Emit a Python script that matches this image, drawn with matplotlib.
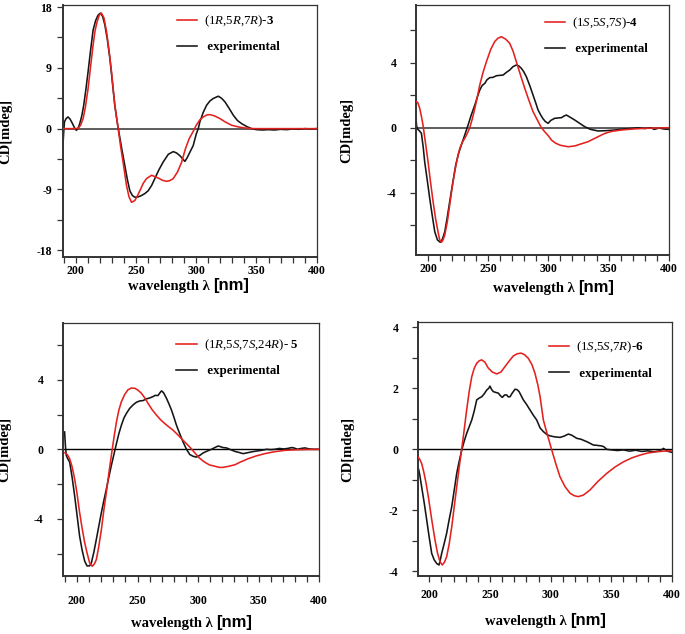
import matplotlib
matplotlib.use("Agg")
import matplotlib.pyplot as plt

plt.rcParams['font.family'] = ['Liberation Serif', 'DejaVu Serif']
plt.rcParams['mathtext.fontset'] = 'custom'
plt.rcParams['mathtext.rm'] = 'Liberation Serif'
plt.rcParams['mathtext.it'] = 'Liberation Serif:italic'
plt.rcParams['mathtext.bf'] = 'Liberation Serif:bold'

# ---------------- data ----------------
# (1R,5R,7R)-3
wl3_calc = [190, 195, 200, 202, 204, 206.1, 208, 210.2, 212.3, 214.4, 216, 217.7, 219.5, 221.3, 223.4,
            225.5, 227.6, 229.7, 231, 232.4, 235.2, 237.2, 239.3, 242.1, 244.2, 246.3, 249, 251, 253.2,
            256, 258.7, 262.9, 268.4, 272, 275.4, 278, 280.9, 284.5, 287.8, 291, 294.1, 297.5, 300, 303,
            306, 308.5, 311.3, 315, 319.6, 324, 329.4, 335, 340.4, 345, 350, 400]
cd3_calc = [0, 0, 0, 0.05, 0.5, 1.5, 3.2, 5.9, 9.2, 12.4, 14.5, 15.8, 16.8, 17.1, 16.4,
            14.4, 11.6, 8.4, 6.0, 3.5, 0, -2.6, -5.0, -8.4, -10.1, -10.9, -10.65, -10.0, -9.2,
            -8.1, -7.4, -6.9, -7.3, -7.65, -7.8, -7.7, -7.4, -6.4, -5.0, -3.0, -1.5, -0.4, 0.5, 1.3,
            1.75, 2.0, 2.08, 1.9, 1.5, 1.0, 0.5, 0.25, 0.1, 0.02, 0, 0]
wl3_exp = [189.5, 190, 190.6, 192, 193.6, 195.3, 197.3, 199, 200.5, 202, 203.3, 205, 206.6, 208.4,
           210.2, 212.3, 214.4, 216.5, 218.5, 220.5, 222.3, 224.1, 226.2, 228.3, 230.3, 232.4, 234.2,
           236, 238.4, 240.7, 242.8, 244.9, 247, 249, 251.8, 254.6, 257.4, 260.1, 263, 265.6, 269,
           272.5, 276.8, 280.9, 283.7, 286.4, 290.6, 292.5, 294.7, 297.5, 300, 301.7, 303, 305.8,
           308.6, 311.4, 314.1, 318.3, 321, 323.9, 327.3, 330.8, 334.2, 337.7, 342, 346, 350, 355,
           360, 365, 370, 375, 380, 385, 390, 395, 400]
cd3_exp = [-2.0, -0.5, 1.0, 1.5, 1.73, 1.4, 0.74, 0.1, -0.25, 0.1, 0.74, 1.9, 3.46, 5.8,
           8.4, 11.6, 14.6, 16.0, 16.8, 17.1, 16.6, 15.4, 13.2, 10.4, 7.0, 3.46, 1.2,
           -0.74, -3.2, -5.45, -7.5, -9.2, -9.9, -10.15, -10.1, -9.9, -9.6, -9.2, -8.4, -7.4, -6.1,
           -4.96, -3.8, -3.4, -3.6, -4.0, -4.85, -4.3, -3.5, -2.5, -0.8, 0, 1.0, 2.4,
           3.46, 4.1, 4.46, 4.8, 4.5, 3.95, 3.0, 1.98, 1.2, 0.74, 0.3, 0, -0.15, -0.2,
           -0.15, -0.2, -0.1, -0.15, -0.05, -0.1, 0, -0.05, 0]

# (1S,5S,7S)-4
wl4_calc = [190.3, 191.5, 193.1, 194.5, 195.8, 198, 200, 202, 204.2, 206.3, 208.3, 209.7, 211.1, 212.5,
            213.9, 216, 218, 220, 222.2, 224.3, 226.4, 228.5, 230.5, 232.6, 234.7, 236.8, 238.9, 241,
            243, 245.7, 248.5, 252, 255.4, 258, 260.9, 264.5, 267.9, 270.7, 273.4, 277, 280.4, 284,
            287.3, 291.4, 294.2, 297, 300, 302.6, 306, 310, 316.4, 322, 327, 333, 340, 346.9, 353,
            360.7, 370, 380, 390, 400]
cd4_calc = [1.6, 1.55, 1.19, 0.7, 0.17, -1.0, -2.09, -3.3, -4.55, -5.6, -6.4, -6.9, -7.05, -6.9,
            -6.6, -5.8, -4.76, -3.7, -2.7, -1.9, -1.27, -0.9, -0.65, -0.35, 0, 0.55, 1.19, 1.9,
            2.63, 3.4, 4.06, 4.8, 5.3, 5.5, 5.6, 5.45, 5.19, 4.7, 4.06, 3.2, 2.42, 1.65,
            0.98, 0.4, 0, -0.25, -0.5, -0.76, -0.95, -1.08, -1.17, -1.12, -1.0, -0.86, -0.6, -0.35, -0.22,
            -0.14, -0.08, -0.04, -0.02, 0]
wl4_exp = [190, 190.5, 191.5, 193, 194.5, 196, 197.2, 199.3, 201.4, 203.5, 205.6, 207.8, 210.2, 212,
           213.9, 216, 218, 220.5, 223, 225.3, 227.7, 230.5, 233.3, 236, 238.9, 241, 243, 245, 247.2,
           249, 251.3, 254, 256.9, 259.5, 262.4, 265, 267.9, 270.5, 273.4, 275.5, 277.6, 279.5,
           281.7, 284.5, 287.3, 289.4, 291.4, 293.5, 295.6, 297.5, 299.8, 302, 305.3, 308, 311, 313,
           315, 318, 322, 326, 330.3, 335, 341.3, 348, 355.2, 362, 368, 375, 380, 385, 388, 392, 396, 400]
cd4_exp = [0.6, 0.1, -0.1, -0.2, -0.35, -1.2, -2.09, -3.2, -4.35, -5.4, -6.4, -6.9, -7.05, -6.85,
           -6.4, -5.5, -4.55, -3.4, -2.3, -1.6, -1.06, -0.45, 0.17, 0.8, 1.4, 1.9, 2.32, 2.6, 2.73,
           2.95, 3.08, 3.1, 3.2, 3.22, 3.24, 3.4, 3.55, 3.75, 3.86, 3.8, 3.65, 3.45,
           3.14, 2.6, 2.0, 1.55, 1.1, 0.8, 0.55, 0.38, 0.27, 0.45, 0.58, 0.6, 0.62, 0.72,
           0.78, 0.65, 0.47, 0.27, 0.06, -0.1, -0.2, -0.18, -0.14, -0.08, -0.05, 0, -0.05, 0.0, -0.1, -0.02, -0.08, -0.1]

# (1R,5S,7S,24R)-5
wl5_calc = [190, 192, 194, 196, 198.1, 200.2, 202.2, 204.3, 206.4, 208.5, 210.5, 212.7, 214.3, 216,
            218, 220.2, 222.2, 224.3, 226.3, 228.4, 230.5, 232.6, 234.6, 236.7, 239.4, 242.1, 244.8,
            247.6, 250.4, 253.2, 256, 258.7, 262, 265.6, 269, 272.5, 276, 279.3, 283, 286.3, 290,
            293.1, 297.2, 301, 305.4, 309.5, 313.6, 317.5, 320.5, 325, 330.3, 335, 341.3, 348, 355,
            363, 371.6, 380, 390, 400]
cd5_calc = [-0.2, -0.3, -0.54, -1.0, -1.7, -2.6, -3.63, -4.55, -5.37, -6.0, -6.53, -6.72, -6.6, -6.34,
            -5.6, -4.6, -3.5, -2.47, -1.4, -0.35, 0.65, 1.58, 2.25, 2.74, 3.15, 3.42, 3.52,
            3.51, 3.4, 3.22, 2.95, 2.64, 2.28, 1.97, 1.7, 1.48, 1.28, 1.1, 0.85, 0.61, 0.35,
            0.13, -0.2, -0.5, -0.74, -0.9, -0.97, -1.04, -1.04, -0.98, -0.89, -0.73, -0.54, -0.38, -0.25,
            -0.14, -0.06, -0.03, -0.01, 0]
wl5_exp = [189.8, 190.5, 191.2, 192.5, 194, 196, 198.1, 200.2, 202.2, 204.3, 206.4, 208.3, 210.5,
           211.9, 214, 216, 218.1, 220.2, 222.2, 224.3, 226.3, 228.4, 230.5, 232.6, 234.6, 236.7,
           238.8, 240.8, 243.5, 246.3, 249, 251.8, 254.5, 257.4, 260, 262.8, 264.5, 266.9, 268.5,
           269.8, 271.5, 273.9, 276, 278, 280, 282.1, 284.8, 287.6, 290.4, 293.1, 295.8, 298.6,
           301.4, 304.1, 307.5, 311, 313.8, 316.5, 318.5, 320.5, 323.4, 326.8, 330.3, 333.7, 337.2,
           340.6, 344, 348, 352.3, 356.5, 360, 363.3, 367, 370.5, 374, 377.1, 379, 382, 385, 388.2,
           391, 395, 400]
cd5_exp = [1.0, 0.2, -0.35, -0.55, -0.74, -1.6, -2.67, -3.85, -4.99, -5.8, -6.43, -6.7, -6.7,
           -6.53, -5.9, -5.18, -4.4, -3.63, -2.95, -2.28, -1.6, -0.93, -0.3, 0.33, 0.9, 1.39,
           1.8, 2.06, 2.35, 2.55, 2.7, 2.78, 2.8, 2.9, 2.95, 3.03, 3.1, 3.09, 3.25,
           3.36, 3.25, 2.93, 2.6, 2.26, 1.85, 1.39, 0.9, 0.42, 0.0, -0.3, -0.4, -0.45,
           -0.35, -0.21, -0.1, 0.0, 0.1, 0.19, 0.15, 0.1, 0.08, -0.02, -0.12, -0.18, -0.25,
           -0.2, -0.15, -0.1, -0.06, 0.0, -0.02, 0.0, 0.05, 0.02, 0.05, 0.1, 0.08, 0.0, 0.05, 0.08,
           0.03, 0.0, 0.0]

# (1S,5S,7R)-6
wl6_calc = [190.4, 192, 193.7, 195.5, 197.3, 199.2, 202, 204.7, 206.8, 208.8, 210.7, 212.5, 214.3,
            216.4, 218.5, 220.5, 222.6, 224.6, 226.7, 228.8, 230.8, 232.9, 235, 237, 239.1, 241.2,
            243.2, 245.9, 248.6, 252, 255.6, 259, 262.4, 266, 269.3, 272.5, 275.6, 278.5, 281.6,
            284.5, 287.1, 289.5, 291.3, 294, 297.5, 300.9, 304.3, 307.7, 311.8, 316, 319.5, 322.8,
            327, 332.5, 339, 346.2, 353, 360, 367, 373.7, 380, 387.5, 393, 398.4, 400]
cd6_calc = [-0.24, -0.32, -0.46, -0.75, -1.1, -1.55, -2.3, -2.97, -3.4, -3.68, -3.79, -3.7, -3.52,
            -3.1, -2.54, -1.9, -1.23, -0.6, 0.0, 0.65, 1.29, 1.9, 2.38, 2.65, 2.82, 2.9,
            2.93, 2.85, 2.66, 2.53, 2.47, 2.53, 2.71, 2.9, 3.06, 3.13, 3.15, 3.1, 2.98,
            2.78, 2.49, 2.1, 1.72, 0.96, 0.45, -0.02, -0.48, -0.9, -1.22, -1.44, -1.52, -1.55,
            -1.5, -1.33, -1.05, -0.79, -0.58, -0.41, -0.28, -0.19, -0.12, -0.08, -0.06, -0.05, -0.05]
wl6_exp = [190.4, 191.2, 192.2, 193.7, 195.8, 197.9, 200, 202, 204, 206.1, 208, 209.2, 210.2, 212.2,
           214.3, 216.4, 218.5, 220.5, 222.6, 224.6, 226.7, 228.8, 230.8, 233, 235, 237, 239.1,
           241.2, 243.2, 245.3, 247.3, 249, 250, 251.5, 252.8, 255, 256.9, 258.5, 260.2, 262,
           263.8, 265, 266.5, 268.5, 270.7, 272.5, 274, 275.8, 277.5, 280, 283, 285.7, 288.5,
           291.3, 294, 297, 299.5, 303, 307.7, 311, 314.6, 317.5, 321.5, 325, 329.8, 335.2, 338,
           342.1, 344, 346.2, 350, 355, 360, 365, 370, 375, 380, 385, 390, 393, 396, 400]
cd6_exp = [-0.68, -0.65, -0.85, -1.23, -1.75, -2.32, -2.9, -3.41, -3.62, -3.74, -3.79, -3.6, -3.41, -3.1,
           -2.75, -2.3, -1.88, -1.35, -0.79, -0.4, -0.03, 0.27, 0.52, 0.75, 0.96, 1.25, 1.62,
           1.68, 1.72, 1.82, 1.94, 2.0, 2.07, 1.95, 1.89, 1.86, 1.84, 1.76, 1.7, 1.78,
           1.78, 1.72, 1.72, 1.85, 1.97, 1.95, 1.89, 1.75, 1.62, 1.48, 1.29, 1.12, 0.96,
           0.7, 0.58, 0.48, 0.44, 0.41, 0.39, 0.43, 0.5, 0.46, 0.36, 0.33, 0.25, 0.14, 0.13,
           0.11, 0.08, 0.0, -0.02, -0.04, -0.02, -0.06, -0.03, -0.07, -0.05, -0.08, -0.05, 0.03, -0.06, -0.1]

labels_calc = [r'(1$\mathit{R}$,5$\mathit{R}$,7$\mathit{R}$)-$\mathbf{3}$',
               r'(1$\mathit{S}$,5$\mathit{S}$,7$\mathit{S}$)-$\mathbf{4}$',
               r'(1$\mathit{R}$,5$\mathit{S}$,7$\mathit{S}$,24$\mathit{R}$)- $\mathbf{5}$',
               r'(1$\mathit{S}$,5$\mathit{S}$,7$\mathit{R}$)-$\mathbf{6}$']

RED = '#e3211f'
BLK = '#151515'

W, H = 685, 634
fig = plt.figure(figsize=(W / 100, H / 100), dpi=100)


def px_rect(l, t, r, b):
    return [l / W, 1 - b / H, (r - l) / W, (b - t) / H]


# layout per panel (pixels in the 685x634 picture)
setup = [
    dict(rect=(63, 5, 316.7, 257), xlim=(189.4, 400), ylim=(-19.0, 18.3), ymaj=[-18, -9, 0, 9, 18],
         ymin=[-13.5, -4.5, 4.5, 13.5], zc='#505050', zw=1.3, leg=(176.7, 13.5), ylx=-0.2,
         xl=(213.5, 290), xpad=1.0, ypad=3.5),
    dict(rect=(416, 5, 668.7, 255), xlim=(190, 400), ylim=(-7.83, 7.55), ymaj=[-4, 0, 4],
         ymin=[-6, -2, 2, 6], zc='#505050', zw=1.3, leg=(544.7, 15.5), ylx=-0.25,
         xl=(578, 292), xpad=1.0, ypad=9.5),
    dict(rect=(63, 323, 319.3, 576.3), xlim=(188.5, 400), ylim=(-7.3, 7.26), ymaj=[-4, 0, 4],
         ymin=[-6, -2, 2, 6], zc='black', zw=1.0, leg=(176, 337.5), ylx=-0.2,
         xl=(216, 627), xpad=9.0, ypad=9.5),
    dict(rect=(418, 321.7, 672, 576.3), xlim=(190.7, 400), ylim=(-4.16, 4.18), ymaj=[-4, -2, 0, 2, 4],
         ymin=[-3, -1, 1, 3], zc='black', zw=1.0, leg=(548.7, 340), ylx=-0.25,
         xl=(570, 625), xpad=5.0, ypad=9.5),
]

series = [(wl3_calc, cd3_calc, wl3_exp, cd3_exp),
          (wl4_calc, cd4_calc, wl4_exp, cd4_exp),
          (wl5_calc, cd5_calc, wl5_exp, cd5_exp),
          (wl6_calc, cd6_calc, wl6_exp, cd6_exp)]

xmaj = [200, 250, 300, 350, 400]
xmin = [190, 210, 220, 230, 240, 260, 270, 280, 290, 310, 320, 330, 340, 360, 370, 380, 390]

for s, (wc, cc, we, ce), lab in zip(setup, series, labels_calc):
    ax = fig.add_axes(px_rect(*s['rect']))
    ax.axhline(0, color=s['zc'], lw=s['zw'], zorder=1)
    lc, = ax.plot(wc, cc, color=RED, lw=1.15, zorder=3)
    le, = ax.plot(we, ce, color=BLK, lw=1.15, zorder=2)
    ax.set_xlim(*s['xlim'])
    ax.set_ylim(*s['ylim'])

    ax.set_xticks(xmaj, [str(v) for v in xmaj], fontweight='bold', fontsize=8.5)
    ax.set_xticks([v for v in xmin if v > s['xlim'][0]], minor=True)
    ax.set_yticks(s['ymaj'], [str(v) for v in s['ymaj']], fontweight='bold', fontsize=8.5)
    ax.set_yticks(s['ymin'], minor=True)
    ax.tick_params(which='both', direction='out', length=4.5, width=0.9, color='#333333')
    ax.tick_params(axis='x', which='major', pad=s['xpad'])
    ax.tick_params(axis='y', which='major', pad=s['ypad'])
    for side in ['left', 'bottom']:
        ax.spines[side].set_linewidth(1.4)
        ax.spines[side].set_color('#333333')
    for side in ['top', 'right']:
        ax.spines[side].set_linewidth(0.9)
        ax.spines[side].set_color('#333333')

    ax.set_ylabel('CD[mdeg]', fontweight='bold', fontsize=10.5)
    ax.yaxis.set_label_coords(s['ylx'], 0.5)

    bx, by = s['xl']
    fig.text(bx / W, 1 - by / H, 'wavelength λ ', ha='right', va='baseline',
             fontsize=10.5, fontweight='bold')
    fig.text(bx / W, 1 - by / H, '[nm]', ha='left', va='baseline',
             fontsize=12, fontweight='bold', family='Liberation Sans')

    lx, ly = s['leg']
    leg = ax.legend([lc, le], [lab, ' experimental'], loc='upper left',
                    bbox_to_anchor=(lx / W, 1 - ly / H), bbox_transform=fig.transFigure,
                    frameon=False, borderpad=0, borderaxespad=0, handlelength=1.6,
                    handletextpad=0.55, labelspacing=0.95, fontsize=9.3)
    leg.get_texts()[1].set_fontweight('bold')

fig.savefig('out.png', dpi=100)
